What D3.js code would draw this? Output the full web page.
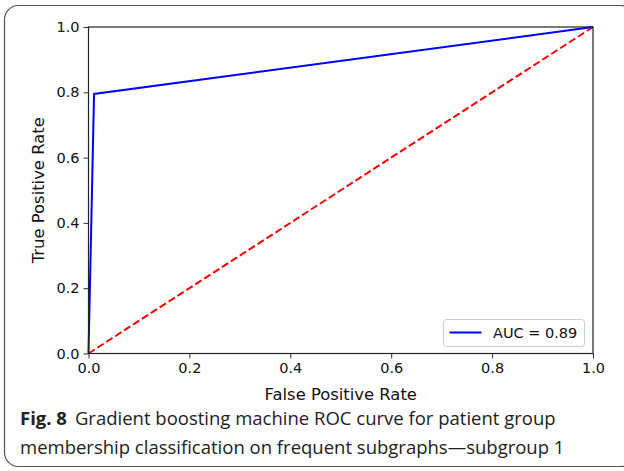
<!DOCTYPE html>
<html>
<head>
<meta charset="utf-8">
<script src="https://cdn.jsdelivr.net/npm/d3@7"></script>
<style>
  body { margin: 0; background: #fff; }
  svg { display: block; }
</style>
</head>
<body>
<div class="roc"></div>
<script>
// ROC points
var fpr = [0, 0.011, 1];
var tpr = [0, 0.795, 1];
var chance = [0, 1];
var ticks = [0, 0.2, 0.4, 0.6, 0.8, 1.0];
var legendLabel = "AUC = 0.89";

var width = 624, height = 471;
var margin = { left: 88.5, top: 27, right: 31, bottom: 117.5 };

var svg = d3.select('.roc')
    .append("svg")
    .attr("width", width)
    .attr("height", height)

// rounded frame round the whole figure
svg.append("rect")
    .attr("x", 4.5).attr("y", 5.5)
    .attr("width", 630).attr("height", 461)
    .attr("rx", 14)
    .attr("fill", "none")
    .attr("stroke", "#555")
    .attr("stroke-width", 1.2)

var x = d3.scaleLinear().domain([0, 1]).range([margin.left, width - margin.right]);
var y = d3.scaleLinear().domain([0, 1]).range([height - margin.bottom, margin.top]);

var font = "'DejaVu Sans', sans-serif";

svg.append("g")
    .attr("transform", "translate(0," + y(0) + ")")
    .call(d3.axisBottom(x).tickValues(ticks).tickFormat(d3.format(".1f")).tickSize(5).tickPadding(4))
    .call(g => g.select(".domain").remove())
    .call(g => g.selectAll("line").attr("stroke", "#333"))
    .call(g => g.selectAll("text").attr("font-family", font).attr("font-size", 14.5).attr("fill", "#111"))

svg.append("g")
    .attr("transform", "translate(" + x(0) + ",0)")
    .call(d3.axisLeft(y).tickValues(ticks).tickFormat(d3.format(".1f")).tickSize(5).tickPadding(4))
    .call(g => g.select(".domain").remove())
    .call(g => g.selectAll("line").attr("stroke", "#333"))
    .call(g => g.selectAll("text").attr("font-family", font).attr("font-size", 14.5).attr("fill", "#111"))

var line = d3.line().x(d => x(d[0])).y(d => y(d[1]));

svg.append("path")
    .attr("d", line(chance.map(v => [v, v])))
    .attr("fill", "none")
    .attr("stroke", "#ff0000")
    .attr("stroke-width", 2)
    .attr("stroke-dasharray", "7.4,3.2")

svg.append("path")
    .attr("d", line(fpr.map((v, i) => [v, tpr[i]])))
    .attr("fill", "none")
    .attr("stroke", "#0000ff")
    .attr("stroke-width", 2)

// spines
svg.append("rect")
    .attr("x", x(0)).attr("y", y(1))
    .attr("width", x(1) - x(0)).attr("height", y(0) - y(1))
    .attr("fill", "none")
    .attr("stroke", "#222")
    .attr("stroke-width", 1.2)

// legend
var lg = svg.append("g").attr("transform", "translate(443.5,319.5)");
lg.append("rect")
    .attr("width", 141).attr("height", 27).attr("rx", 3)
    .attr("fill", "#fff").attr("fill-opacity", 0.8)
    .attr("stroke", "#ccc")
lg.append("line")
    .attr("x1", 6).attr("x2", 38).attr("y1", 13).attr("y2", 13)
    .attr("stroke", "#0000ff").attr("stroke-width", 2)
lg.append("text")
    .attr("x", 49.5).attr("y", 18.5)
    .attr("font-family", font).attr("font-size", 14.5).attr("fill", "#111")
    .text(legendLabel)

svg.append("text")
    .attr("x", (x(0) + x(1)) / 2).attr("y", 400)
    .attr("text-anchor", "middle")
    .attr("font-family", font).attr("font-size", 16.4).attr("fill", "#111")
    .text("False Positive Rate")

svg.append("text")
    .attr("transform", "translate(43.5," + (y(0) + y(1)) / 2 + ") rotate(-90)")
    .attr("text-anchor", "middle")
    .attr("font-family", font).attr("font-size", 16.4).attr("fill", "#111")
    .text("True Positive Rate")

// caption
var cap = svg.append("text")
    .attr("font-family", "'Open Sans', 'Noto Sans', sans-serif")
    .attr("font-size", 18.5).attr("fill", "#222")
cap.append("tspan").attr("x", 20).attr("y", 425)
    .attr("font-weight", "bold").text("Fig. 8")
cap.append("tspan").attr("dx", 8)
    .text("Gradient boosting machine ROC curve for patient group")
cap.append("tspan").attr("x", 20).attr("y", 454)
    .text("membership classification on frequent subgraphs\u2014subgroup 1")
</script>
</body>
</html>
